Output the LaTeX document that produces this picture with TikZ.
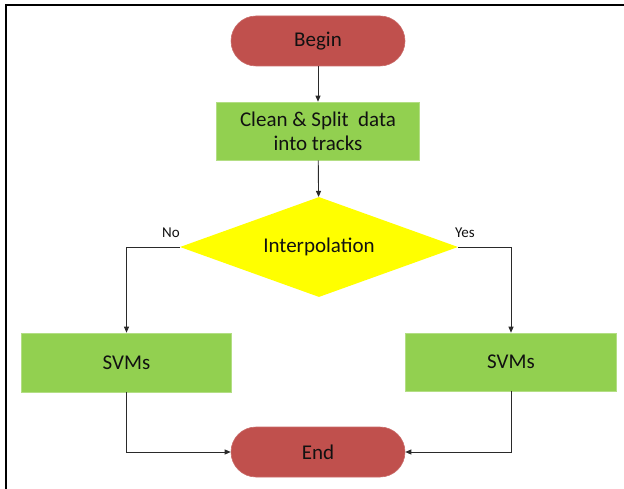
\documentclass[tikz,border=0pt]{standalone}
\usepackage{fontspec}
\setmainfont{Carlito}
\usetikzlibrary{shapes.geometric,arrows.meta}
\definecolor{termred}{HTML}{C0504D}
\definecolor{procgreen}{HTML}{92D050}
\definecolor{decyellow}{HTML}{FFFF00}
\definecolor{txt}{HTML}{111111}
\definecolor{linec}{HTML}{2A2A2A}
\begin{document}
\begin{tikzpicture}[x=1pt,y=-1pt,
  every node/.style={text=txt},
  term/.style={rectangle, rounded corners=25pt, fill=termred, draw=termred!85!white, line width=0.6pt, minimum width=174pt, minimum height=50pt, inner sep=0pt, font=\fontsize{21}{25}\selectfont},
  proc/.style={rectangle, fill=procgreen, draw=procgreen!70!white, line width=0.6pt, inner sep=0pt, font=\fontsize{21}{24}\selectfont, align=center},
  dec/.style={diamond, aspect=2.78, fill=decyellow, inner sep=0pt, minimum width=278pt, minimum height=100pt, font=\fontsize{21}{25}\selectfont},
  lbl/.style={inner sep=0pt, font=\fontsize{15}{18}\selectfont},
  arr/.style={draw=linec, line width=0.9pt, -{Triangle[length=6pt,width=5pt]}}
]
\useasboundingbox (0,0) rectangle (624,489);
\draw[line width=2pt, black] (6,489) -- (6,5) -- (624,5);

\node[term] (begin) at (318,41) {Begin};
\node[proc, minimum width=203pt, minimum height=58pt] (clean) at (318,131) {Clean \& Split\hspace{0.45em}data\\into tracks};
\node[dec] (decide) at (319,247) {Interpolation};
\node[proc, minimum width=210pt, minimum height=59pt] (svmL) at (126.5,362.5) {SVMs};
\node[proc, minimum width=211pt, minimum height=58pt] (svmR) at (511,362) {SVMs};
\node[term] (end) at (318,452) {End};

\node[lbl] (no) at (171,233) {No};
\node[lbl] (yes) at (465,233) {Yes};

\draw[arr] (begin) -- (clean);
\draw[arr] (clean) -- (decide);
\draw[arr] (decide.west) -| (svmL.north);
\draw[arr] (decide.east) -| (svmR.north);
\draw[arr] (svmL.south) |- (end.west);
\draw[arr] (svmR.south) |- (end.east);
\end{tikzpicture}
\end{document}
